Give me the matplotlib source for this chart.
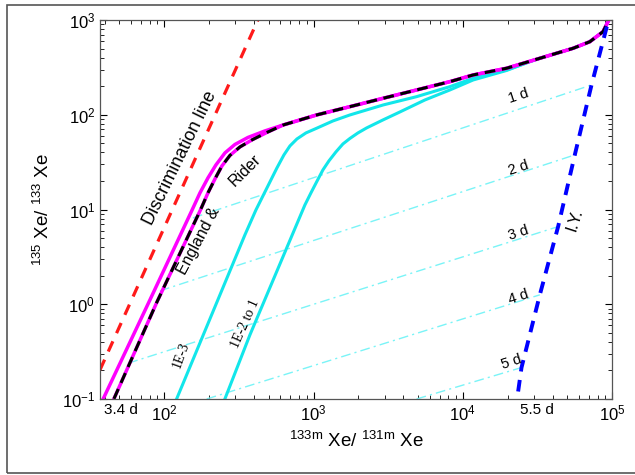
import matplotlib
matplotlib.use("Agg")
import matplotlib.pyplot as plt
from matplotlib.patches import Rectangle

plt.rcParams['font.family'] = ['Liberation Sans', 'DejaVu Sans']
plt.rcParams['mathtext.fontset'] = 'custom'
plt.rcParams['mathtext.rm'] = 'Liberation Sans'
plt.rcParams['mathtext.it'] = 'Liberation Sans:italic'

# discrimination line (red dashed)
disc_x = [37.1, 424.0]
disc_y = [0.203, 1000.0]

# shared upper branch of the source curves
top_x = [1049, 1753, 2931, 4905, 8196, 11743, 19655, 32840, 54900, 71030, 87100, 95200]
top_y = [99.5, 121.7, 149.3, 182.7, 223.5, 263.0, 309.5, 394.5, 503.0, 590.0, 753.0, 1000.0]

# magenta curve, outer branch
mag1_x = [39.0, 80.2, 152.6, 173.4, 196.2, 221.9, 255.0, 297.6, 363.6, 472.6, 626.6] + top_x
mag1_y = [0.1005, 1.113, 9.66, 14.96, 21.54, 29.54, 39.54, 48.6, 57.6, 67.5, 78.0] + top_y

# England & Rider (magenta + black dashed)
er_x = [46.0, 89.4, 174.8, 196.2, 218.6, 243.5, 275.4, 321.4, 386.7, 487.4, 626.6] + top_x
er_y = [0.1005, 1.06, 9.90, 14.96, 21.02, 28.84, 37.22, 45.74, 54.24, 65.08, 78.0] + top_y

# cyan 1E-3
tail_x = [28150, 32840, 54900, 71030, 87100, 95200]
tail_y = [363.2, 394.5, 503.0, 590.0, 753.0, 1000.0]
c1_x = [121.1, 347.1, 411.4, 458.3, 510.5, 568.7, 633.4, 695.1, 774.2, 889.3,
        1049, 1349, 1753, 2931, 4905, 8196, 11743, 19655] + tail_x
c1_y = [0.1005, 5.40, 9.90, 13.91, 19.55, 27.47, 37.66, 46.87, 55.54, 64.27,
        72.04, 86.0, 99.5, 126.9, 155.2, 197.9, 242.7, 296.9] + tail_y

# cyan 1E-2 to 1
c2_x = [255.0, 375.0, 875.9, 960.7, 1049, 1156, 1268, 1413, 1574, 1753,
        1984, 2269, 2917, 3791, 5575, 8196, 11743, 19655] + tail_x
c2_y = [0.1005, 0.4755, 11.18, 14.96, 19.55, 26.17, 32.56, 40.52, 49.2, 56.2,
        64.27, 72.6, 88.1, 107.0, 143.2, 182.6, 232.9, 293.3] + tail_y

# decay lines (dash-dot), start/end
day_labels = ['1 d', '2 d', '3 d', '4 d', '5 d']
day_x0 = [155.7, 93.6, 57.4, 192.3, 4905]
day_y0 = [8.15, 1.385, 0.239, 0.1, 0.1]
day_x1 = [72900, 56340, 43550, 32840, 24760]
day_y1 = [206.2, 37.7, 6.60, 1.257, 0.2148]
day_lab_x = [23770, 23770, 23770, 23770, 21330]
day_lab_y = [157.8, 27.5, 5.66, 1.20, 0.2466]

# I.Y. line (blue dashed)
iy_x = [23500, 24760, 32840, 43550, 56340, 72900, 94200]
iy_y = [0.12, 0.2148, 1.257, 6.60, 37.7, 206.2, 960.0]

cyan = '#12e6ea'
light_cyan = '#7af4f7'

fig = plt.figure(figsize=(6.35, 4.75), dpi=100)
fig.patches.append(Rectangle((7 / 635, 2 / 475), 1.0, 468 / 475, transform=fig.transFigure,
                             fill=False, edgecolor='#555555', linewidth=1.2))
ax = fig.add_axes([100 / 635, 76 / 475, 512 / 635, 379 / 475])

for x0, y0, x1, y1 in zip(day_x0, day_y0, day_x1, day_y1):
    ax.plot([x0, x1], [y0, y1], color=light_cyan, lw=1.0, linestyle=(0, (7, 3, 1.5, 3)))

ax.plot(c1_x, c1_y, color=cyan, lw=2.2)
ax.plot(c2_x, c2_y, color=cyan, lw=2.2)
ax.plot(mag1_x, mag1_y, color='#ff00ff', lw=2.5)
ax.plot(er_x, er_y, color='#ff00ff', lw=2.5)
ax.plot(er_x, er_y, color='black', lw=2.2, dashes=(3.5, 2.2))
ax.plot(disc_x, disc_y, color='#ff1a1a', lw=2.3, dashes=(3.5, 2.8))
ax.plot(iy_x, iy_y, color='#0000ff', lw=2.8, dashes=(3.0, 2.2))

ax.set_xscale('log')
ax.set_yscale('log')
ax.set_xlim(37.1, 1e5)
ax.set_ylim(0.1, 1000)

ax.tick_params(which='both', direction='in', top=True, right=True, labelsize=12)
ax.tick_params(which='major', length=5, width=0.8)
ax.tick_params(which='minor', length=3, width=0.6)
for s in ax.spines.values():
    s.set_color('#555555')
    s.set_linewidth(0.9)

ax.set_xlabel(r'$^{\mathrm{133m}}$ Xe/ $^{\mathrm{131m}}$ Xe', fontsize=13.5, labelpad=5)
ax.set_ylabel(r'$^{\mathrm{135}}$ Xe/ $^{\mathrm{133}}$ Xe', fontsize=13.5, labelpad=6)

ax.text(127, 35, 'Discrimination line', rotation=64, fontsize=13,
        ha='center', va='center', rotation_mode='anchor')
ax.text(171, 4.67, 'England &', rotation=62, fontsize=11.5,
        ha='center', va='center', rotation_mode='anchor')
ax.text(348, 26.2, 'Rider', rotation=45, fontsize=11.5,
        ha='center', va='center', rotation_mode='anchor')
ax.text(129.5, 0.292, '1E-3', rotation=70, fontsize=10, family='Liberation Serif',
        ha='center', va='center', rotation_mode='anchor')
ax.text(348, 0.62, '1E-2 to 1', rotation=66, fontsize=10, family='Liberation Serif',
        ha='center', va='center', rotation_mode='anchor')
for lab, lx, ly in zip(day_labels, day_lab_x, day_lab_y):
    ax.text(lx, ly, lab, rotation=18, fontsize=10.5,
            ha='center', va='center', rotation_mode='anchor')
ax.text(56400, 7.76, 'I.Y.', rotation=72, fontsize=12,
        ha='center', va='center', rotation_mode='anchor')
ax.text(51.3, 0.0766, '3.4 d', fontsize=11, ha='center', va='center', clip_on=False)
ax.text(31400, 0.0766, '5.5 d', fontsize=11, ha='center', va='center', clip_on=False)

fig.savefig('out.png', dpi=100)
